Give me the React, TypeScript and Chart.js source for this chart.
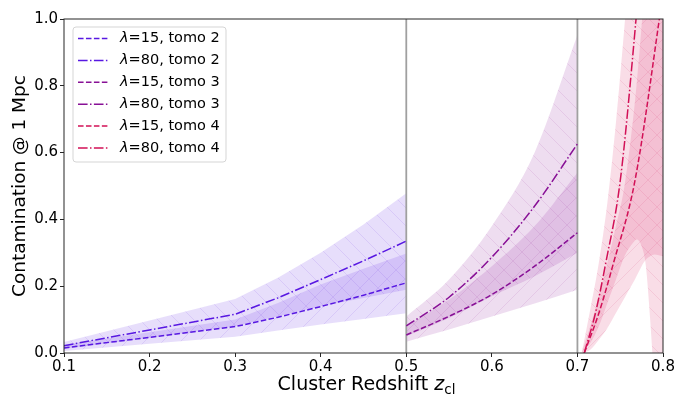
import React, { useEffect, useRef } from "react";
import { Chart, registerables } from "chart.js";
Chart.register(...registerables);

// ---------------- data ----------------
const xTicks = [0.1, 0.2, 0.3, 0.4, 0.5, 0.6, 0.7, 0.8];
const yTicks = [0.0, 0.2, 0.4, 0.6, 0.8, 1.0];
const panelEdges = [0.5, 0.7];

// tomo 2 (0.1 - 0.5)
const xTomo2 = [0.1, 0.2, 0.3, 0.35, 0.4, 0.45, 0.5];
const lam15Tomo2 = [0.015, 0.047, 0.079, 0.107, 0.139, 0.173, 0.21];
const lam80Tomo2 = [0.022, 0.069, 0.116, 0.165, 0.22, 0.276, 0.335];
const lam15Tomo2Low = [0.006, 0.0275, 0.049, 0.067, 0.085, 0.102, 0.119];
const lam15Tomo2High = [0.025, 0.0625, 0.1, 0.15, 0.205, 0.252, 0.298];
const lam80Tomo2Low = [0.012, 0.046, 0.08, 0.11, 0.14, 0.165, 0.189];
const lam80Tomo2High = [0.033, 0.0975, 0.162, 0.225, 0.3, 0.385, 0.478];

// tomo 3 (0.5 - 0.7)
const xTomo3 = [0.5, 0.55, 0.6, 0.65, 0.7];
const lam15Tomo3 = [0.054, 0.11, 0.175, 0.26, 0.36];
const lam80Tomo3 = [0.081, 0.167, 0.287, 0.44, 0.626];
const lam15Tomo3Low = [0.034, 0.07, 0.109, 0.148, 0.189];
const lam15Tomo3High = [0.08, 0.16, 0.26, 0.38, 0.54];
const lam80Tomo3Low = [0.05, 0.105, 0.17, 0.23, 0.3];
const lam80Tomo3High = [0.109, 0.22, 0.38, 0.6, 0.952];

// tomo 4 (0.7 - 0.8)
const xLam15Tomo4 = [0.708, 0.725, 0.742, 0.767, 0.7957, 0.802];
const lam15Tomo4 = [0, 0.119, 0.268, 0.513, 1.0, 1.12];
const xLam80Tomo4 = [0.708, 0.721, 0.733, 0.75, 0.7685, 0.775];
const lam80Tomo4 = [0, 0.119, 0.268, 0.515, 1.0, 1.2];
const xBandTomo4 = [0.705, 0.715, 0.725, 0.735, 0.745, 0.755, 0.765, 0.769, 0.775, 0.78, 0.785, 0.79, 0.8];
const lam15Tomo4Low = [0, 0.01, 0.04, 0.075, 0.12, 0.165, 0.21, 0.23, 0.26, 0.28, 0.29, 0.295, 0.29];
const lam15Tomo4High = [0, 0.08, 0.17, 0.27, 0.38, 0.5, 0.7, 0.8, 0.98, 1.15, 1.3, 1.45, 1.7];
const lam80Tomo4Low = [0, 0.03, 0.08, 0.15, 0.22, 0.29, 0.33, 0.34, 0.32, 0.26, 0.1, -0.1, -0.5];
const lam80Tomo4High = [0, 0.13, 0.27, 0.45, 0.69, 0.98, 1.3, 1.45, 1.6, 1.75, 1.9, 2.0, 2.2];

// ---------------- styles ----------------
const FONT = '"DejaVu Sans", "Liberation Sans", sans-serif';
const C2 = "88,24,226";
const C3 = "136,16,150";
const C4 = "210,16,86";
const DASHED = [5.55, 2.4];
const DASHDOT = [9.6, 2.4, 1.5, 2.4];

function pts(xs: number[], ys: number[]) {
  return xs.map((x, i) => ({ x, y: ys[i] }));
}

function makePattern(rgb: string, dir: "/" | "\\") {
  const s = 18;
  const c = document.createElement("canvas");
  c.width = s;
  c.height = s;
  const g = c.getContext("2d")!;
  g.fillStyle = `rgba(${rgb},0.14)`;
  g.fillRect(0, 0, s, s);
  g.strokeStyle = `rgba(${rgb},0.1)`;
  g.lineWidth = 1;
  g.beginPath();
  if (dir === "/") {
    g.moveTo(-1, s + 1);
    g.lineTo(s + 1, -1);
    g.moveTo(-2, 2);
    g.lineTo(2, -2);
    g.moveTo(s - 2, s + 2);
    g.lineTo(s + 2, s - 2);
  } else {
    g.moveTo(-1, -1);
    g.lineTo(s + 1, s + 1);
    g.moveTo(s - 2, -2);
    g.lineTo(s + 2, 2);
    g.moveTo(-2, s - 2);
    g.lineTo(2, s + 2);
  }
  g.stroke();
  return g.createPattern(c, "repeat")!;
}

const framePlugin = {
  id: "frameAndTitles",
  afterDatasetsDraw(chart: any) {
    const { ctx, chartArea: a } = chart;
    ctx.save();
    ctx.strokeStyle = "#262626";
    ctx.lineWidth = 1;
    ctx.strokeRect(a.left, a.top, a.right - a.left, a.bottom - a.top);

    // legend
    const items = chart.data.datasets.filter((d: any) => d.legendLam);
    const bx = a.left + 9,
      by = a.top + 8,
      bw = 153,
      bh = 135,
      r = 3;
    ctx.beginPath();
    ctx.moveTo(bx + r, by);
    ctx.lineTo(bx + bw - r, by);
    ctx.quadraticCurveTo(bx + bw, by, bx + bw, by + r);
    ctx.lineTo(bx + bw, by + bh - r);
    ctx.quadraticCurveTo(bx + bw, by + bh, bx + bw - r, by + bh);
    ctx.lineTo(bx + r, by + bh);
    ctx.quadraticCurveTo(bx, by + bh, bx, by + bh - r);
    ctx.lineTo(bx, by + r);
    ctx.quadraticCurveTo(bx, by, bx + r, by);
    ctx.closePath();
    ctx.fillStyle = "rgba(255,255,255,0.8)";
    ctx.fill();
    ctx.strokeStyle = "#d5d5d5";
    ctx.stroke();
    items.forEach((d: any, i: number) => {
      const y = by + 11.5 + i * 21.9;
      ctx.setLineDash(d.borderDash);
      ctx.strokeStyle = d.borderColor;
      ctx.lineWidth = 1.5;
      ctx.beginPath();
      ctx.moveTo(bx + 5, y);
      ctx.lineTo(bx + 35, y);
      ctx.stroke();
      ctx.setLineDash([]);
      ctx.fillStyle = "#000";
      ctx.textBaseline = "middle";
      ctx.textAlign = "left";
      const tx = bx + 47;
      ctx.font = `italic 14.5px ${FONT}`;
      ctx.fillText("λ", tx, y);
      const w = ctx.measureText("λ").width;
      ctx.font = `14.5px ${FONT}`;
      ctx.fillText(`=${d.legendLam}, tomo ${d.legendTomo}`, tx + w, y);
    });

    // x title
    ctx.fillStyle = "#000";
    ctx.textBaseline = "alphabetic";
    ctx.textAlign = "left";
    const t1 = "Cluster Redshift ";
    ctx.font = `19px ${FONT}`;
    const w1 = ctx.measureText(t1).width;
    ctx.font = `italic 19px ${FONT}`;
    const w2 = ctx.measureText("z").width;
    ctx.font = `13.5px ${FONT}`;
    const w3 = ctx.measureText("cl").width;
    const cx = (a.left + a.right) / 2 + 3;
    const x0 = cx - (w1 + w2 + w3) / 2;
    const base = 390;
    ctx.font = `19px ${FONT}`;
    ctx.fillText(t1, x0, base);
    ctx.font = `italic 19px ${FONT}`;
    ctx.fillText("z", x0 + w1, base);
    ctx.font = `13.5px ${FONT}`;
    ctx.fillText("cl", x0 + w1 + w2, base + 4);

    // y title
    ctx.save();
    ctx.translate(25, (a.top + a.bottom) / 2);
    ctx.rotate(-Math.PI / 2);
    ctx.textAlign = "center";
    ctx.font = `18.5px ${FONT}`;
    ctx.fillText("Contamination @ 1 Mpc", 0, 0);
    ctx.restore();
    ctx.restore();
  },
};

export default function App() {
  const ref = useRef<HTMLCanvasElement | null>(null);
  useEffect(() => {
    document.body.style.margin = "0";
    const canvas = ref.current!;
    const interp = (smooth: boolean) =>
      smooth ? { cubicInterpolationMode: "monotone" } : { tension: 0 };
    const line = (xs: number[], ys: number[], rgb: string, dash: number[], lam: string, tomo: string, smooth: boolean) => ({
      data: pts(xs, ys),
      borderColor: `rgb(${rgb})`,
      borderDash: dash,
      borderWidth: 1.5,
      pointRadius: 0,
      fill: false,
      ...interp(smooth),
      legendLam: lam,
      legendTomo: tomo,
    });
    const bandHi = (xs: number[], ys: number[], pat: CanvasPattern, smooth: boolean) => ({
      data: pts(xs, ys),
      borderColor: "rgba(0,0,0,0)",
      borderWidth: 0,
      pointRadius: 0,
      backgroundColor: pat,
      fill: "+1",
      ...interp(smooth),
    });
    const bandLo = (xs: number[], ys: number[], smooth: boolean) => ({
      data: pts(xs, ys),
      borderColor: "rgba(0,0,0,0)",
      borderWidth: 0,
      pointRadius: 0,
      fill: false,
      ...interp(smooth),
    });
    const sep = (x: number) => ({
      data: [
        { x, y: 0 },
        { x, y: 1 },
      ],
      borderColor: "#a0a0a0",
      borderWidth: 1.8,
      pointRadius: 0,
      fill: false,
    });

    const datasets: any[] = [
      line(xTomo2, lam15Tomo2, C2, DASHED, "15", "2", false),
      line(xTomo2, lam80Tomo2, C2, DASHDOT, "80", "2", false),
      line(xTomo3, lam15Tomo3, C3, DASHED, "15", "3", true),
      line(xTomo3, lam80Tomo3, C3, DASHDOT, "80", "3", true),
      line(xLam15Tomo4, lam15Tomo4, C4, DASHED, "15", "4", true),
      line(xLam80Tomo4, lam80Tomo4, C4, DASHDOT, "80", "4", true),
      ...panelEdges.map(sep),
      bandHi(xTomo2, lam15Tomo2High, makePattern(C2, "/"), false),
      bandLo(xTomo2, lam15Tomo2Low, false),
      bandHi(xTomo2, lam80Tomo2High, makePattern(C2, "\\"), false),
      bandLo(xTomo2, lam80Tomo2Low, false),
      bandHi(xTomo3, lam15Tomo3High, makePattern(C3, "/"), true),
      bandLo(xTomo3, lam15Tomo3Low, true),
      bandHi(xTomo3, lam80Tomo3High, makePattern(C3, "\\"), true),
      bandLo(xTomo3, lam80Tomo3Low, true),
      bandHi(xBandTomo4, lam15Tomo4High, makePattern(C4, "/"), true),
      bandLo(xBandTomo4, lam15Tomo4Low, true),
      bandHi(xBandTomo4, lam80Tomo4High, makePattern(C4, "\\"), true),
      bandLo(xBandTomo4, lam80Tomo4Low, true),
    ];

    const chart = new Chart(canvas, {
      type: "line",
      data: { datasets },
      plugins: [framePlugin],
      options: {
        responsive: false,
        animation: false,
        events: [],
        layout: { autoPadding: false, padding: { left: 0, right: 28, top: 19, bottom: 0 } },
        plugins: { legend: { display: false }, tooltip: { enabled: false }, title: { display: false } },
        scales: {
          x: {
            type: "linear",
            min: 0.1,
            max: 0.8,
            afterFit: (s: any) => {
              s.height = 41;
            },
            afterBuildTicks: (s: any) => {
              s.ticks = xTicks.map((v) => ({ value: v }));
            },
            grid: { display: true, drawOnChartArea: false, drawTicks: true, tickLength: 4, color: "#262626" },
            border: { display: false },
            ticks: {
              padding: 1,
              color: "#000",
              font: { family: FONT, size: 15 },
              maxRotation: 0,
              autoSkip: false,
              callback: (v: any) => Number(v).toFixed(1),
            },
          },
          y: {
            type: "linear",
            min: 0,
            max: 1,
            afterFit: (s: any) => {
              s.width = 64;
            },
            afterBuildTicks: (s: any) => {
              s.ticks = yTicks.map((v) => ({ value: v }));
            },
            grid: { display: true, drawOnChartArea: false, drawTicks: true, tickLength: 4, color: "#262626" },
            border: { display: false },
            ticks: {
              padding: 2,
              color: "#000",
              font: { family: FONT, size: 15 },
              autoSkip: false,
              callback: (v: any) => Number(v).toFixed(1),
            },
          },
        },
      } as any,
    });
    return () => chart.destroy();
  }, []);
  return (
    <div style={{ position: "fixed", left: 0, top: 0, width: 691, height: 394, background: "#fff" }}>
      <canvas ref={ref} width={691} height={394} style={{ display: "block", width: 691, height: 394 }} />
    </div>
  );
}
